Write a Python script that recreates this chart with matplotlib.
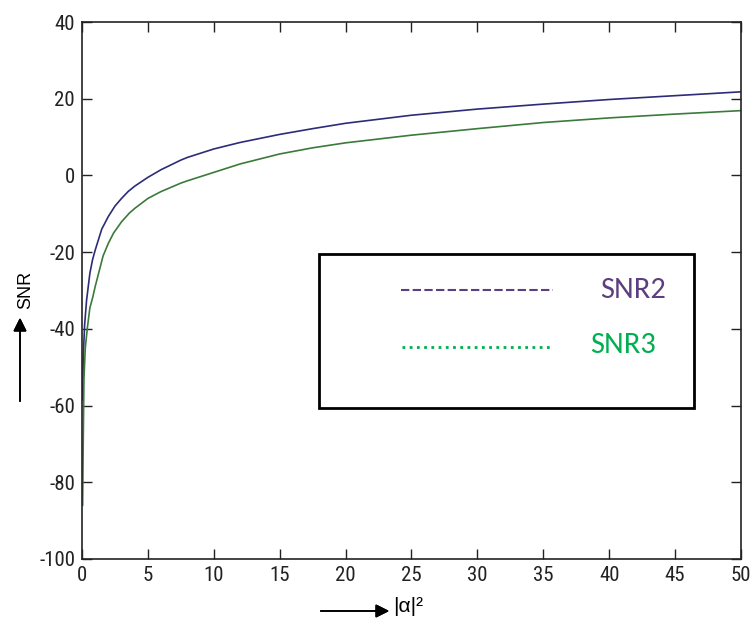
import matplotlib
matplotlib.use("Agg")
from matplotlib import pyplot as plt
from matplotlib.patches import Rectangle

plt.rcParams['axes.unicode_minus'] = False

# values
alpha2_snr2 = [0.05, 0.1, 0.2, 0.35, 0.6, 0.8, 1.0, 1.5, 2, 2.5, 3, 3.5, 4, 5, 6, 7.5, 8, 10, 12, 15,
               17.5, 20, 25, 30, 35, 40, 45, 50]
snr2 = [-58.5, -47, -39, -32.5, -25.5, -22, -19.5, -14, -10.7, -8, -6, -4.2, -2.8, -0.5, 1.5, 4.0, 4.7,
        6.9, 8.6, 10.7, 12.2, 13.6, 15.7, 17.3, 18.6, 19.8, 20.8, 21.8]

alpha2_snr3 = [0.05, 0.1, 0.15, 0.25, 0.4, 0.6, 0.8, 1.0, 1.6, 2, 2.4, 3, 3.6, 4, 5, 6, 7.5, 8, 10, 12,
               15, 17.5, 20, 25, 30, 35, 40, 45, 50]
snr3 = [-86, -68, -53, -45, -40, -34.5, -32, -29, -21, -17.7, -15, -12.1, -9.8, -8.6, -6, -4.2, -2,
        -1.4, 0.8, 3.0, 5.6, 7.2, 8.5, 10.5, 12.2, 13.8, 15.0, 16.0, 16.9]

x_ticks = [0, 5, 10, 15, 20, 25, 30, 35, 40, 45, 50]
y_ticks = [-100, -80, -60, -40, -20, 0, 20, 40]
legend_names = ["SNR2", "SNR3"]

tick_font = ["Roboto Condensed", "Liberation Sans", "DejaVu Sans"]
label_font = ["Liberation Sans", "DejaVu Sans"]
legend_font = ["Carlito", "Open Sans", "DejaVu Sans"]

fig = plt.figure(figsize=(7.5, 6.24), dpi=100)
ax = fig.add_axes([0.1093, 0.1042, 0.8787, 0.8605])

ax.plot(alpha2_snr2, snr2, color="#2c2c78", lw=1.2)
ax.plot(alpha2_snr3, snr3, color="#3b7a3b", lw=1.2)

ax.set_xlim(0, 50)
ax.set_ylim(-100, 40)
ax.set_xticks(x_ticks)
ax.set_yticks(y_ticks)
ax.tick_params(direction="in", length=7, width=1, top=True, right=True,
               labelsize=15, pad=5, colors="#222222")
for lab in ax.get_xticklabels() + ax.get_yticklabels():
    lab.set_family(tick_font)
for sp in ax.spines.values():
    sp.set_linewidth(1.2)
    sp.set_color("#222222")

#hand drawn legend box
ax.add_patch(Rectangle((0.3596, 0.2812), 0.5691, 0.2868, transform=ax.transAxes,
                       fill=False, edgecolor="black", lw=2, zorder=5))
ax.plot([0.484, 0.715], [0.501, 0.501], transform=ax.transAxes, color="#5b3f80",
        lw=1.5, dashes=(4, 1.6), zorder=6)
ax.plot([0.4856, 0.713], [0.395, 0.395], transform=ax.transAxes, color="#00b050",
        lw=2, dashes=(1, 1.6), zorder=6)
ax.text(0.786, 0.501, legend_names[0], transform=ax.transAxes, color="#5b3f80",
        fontsize=22, family=legend_font, va="center", ha="left")
ax.text(0.771, 0.398, legend_names[1], transform=ax.transAxes, color="#00b050",
        fontsize=22, family=legend_font, va="center", ha="left")

#axis labels with arrows
fig.text(26 / 750, 1 - 290 / 624, "SNR", rotation=90, ha="center", va="center",
         fontsize=13, family=label_font)
fig.add_artist(plt.annotate("", xy=(20 / 750, 1 - 315 / 624), xytext=(20 / 750, 1 - 404 / 624),
                            xycoords="figure fraction",
                            arrowprops=dict(arrowstyle="-|>", color="black", lw=1.2,
                                            mutation_scale=20)))
fig.text(393 / 750, 1 - 606 / 624, "|α|²", ha="left", va="center",
         fontsize=15, family=label_font)
fig.add_artist(plt.annotate("", xy=(392 / 750, 1 - 611 / 624), xytext=(318 / 750, 1 - 611 / 624),
                            xycoords="figure fraction",
                            arrowprops=dict(arrowstyle="-|>", color="black", lw=1.2,
                                            mutation_scale=20)))

plt.savefig("out.png", dpi=100)
plt.close()
